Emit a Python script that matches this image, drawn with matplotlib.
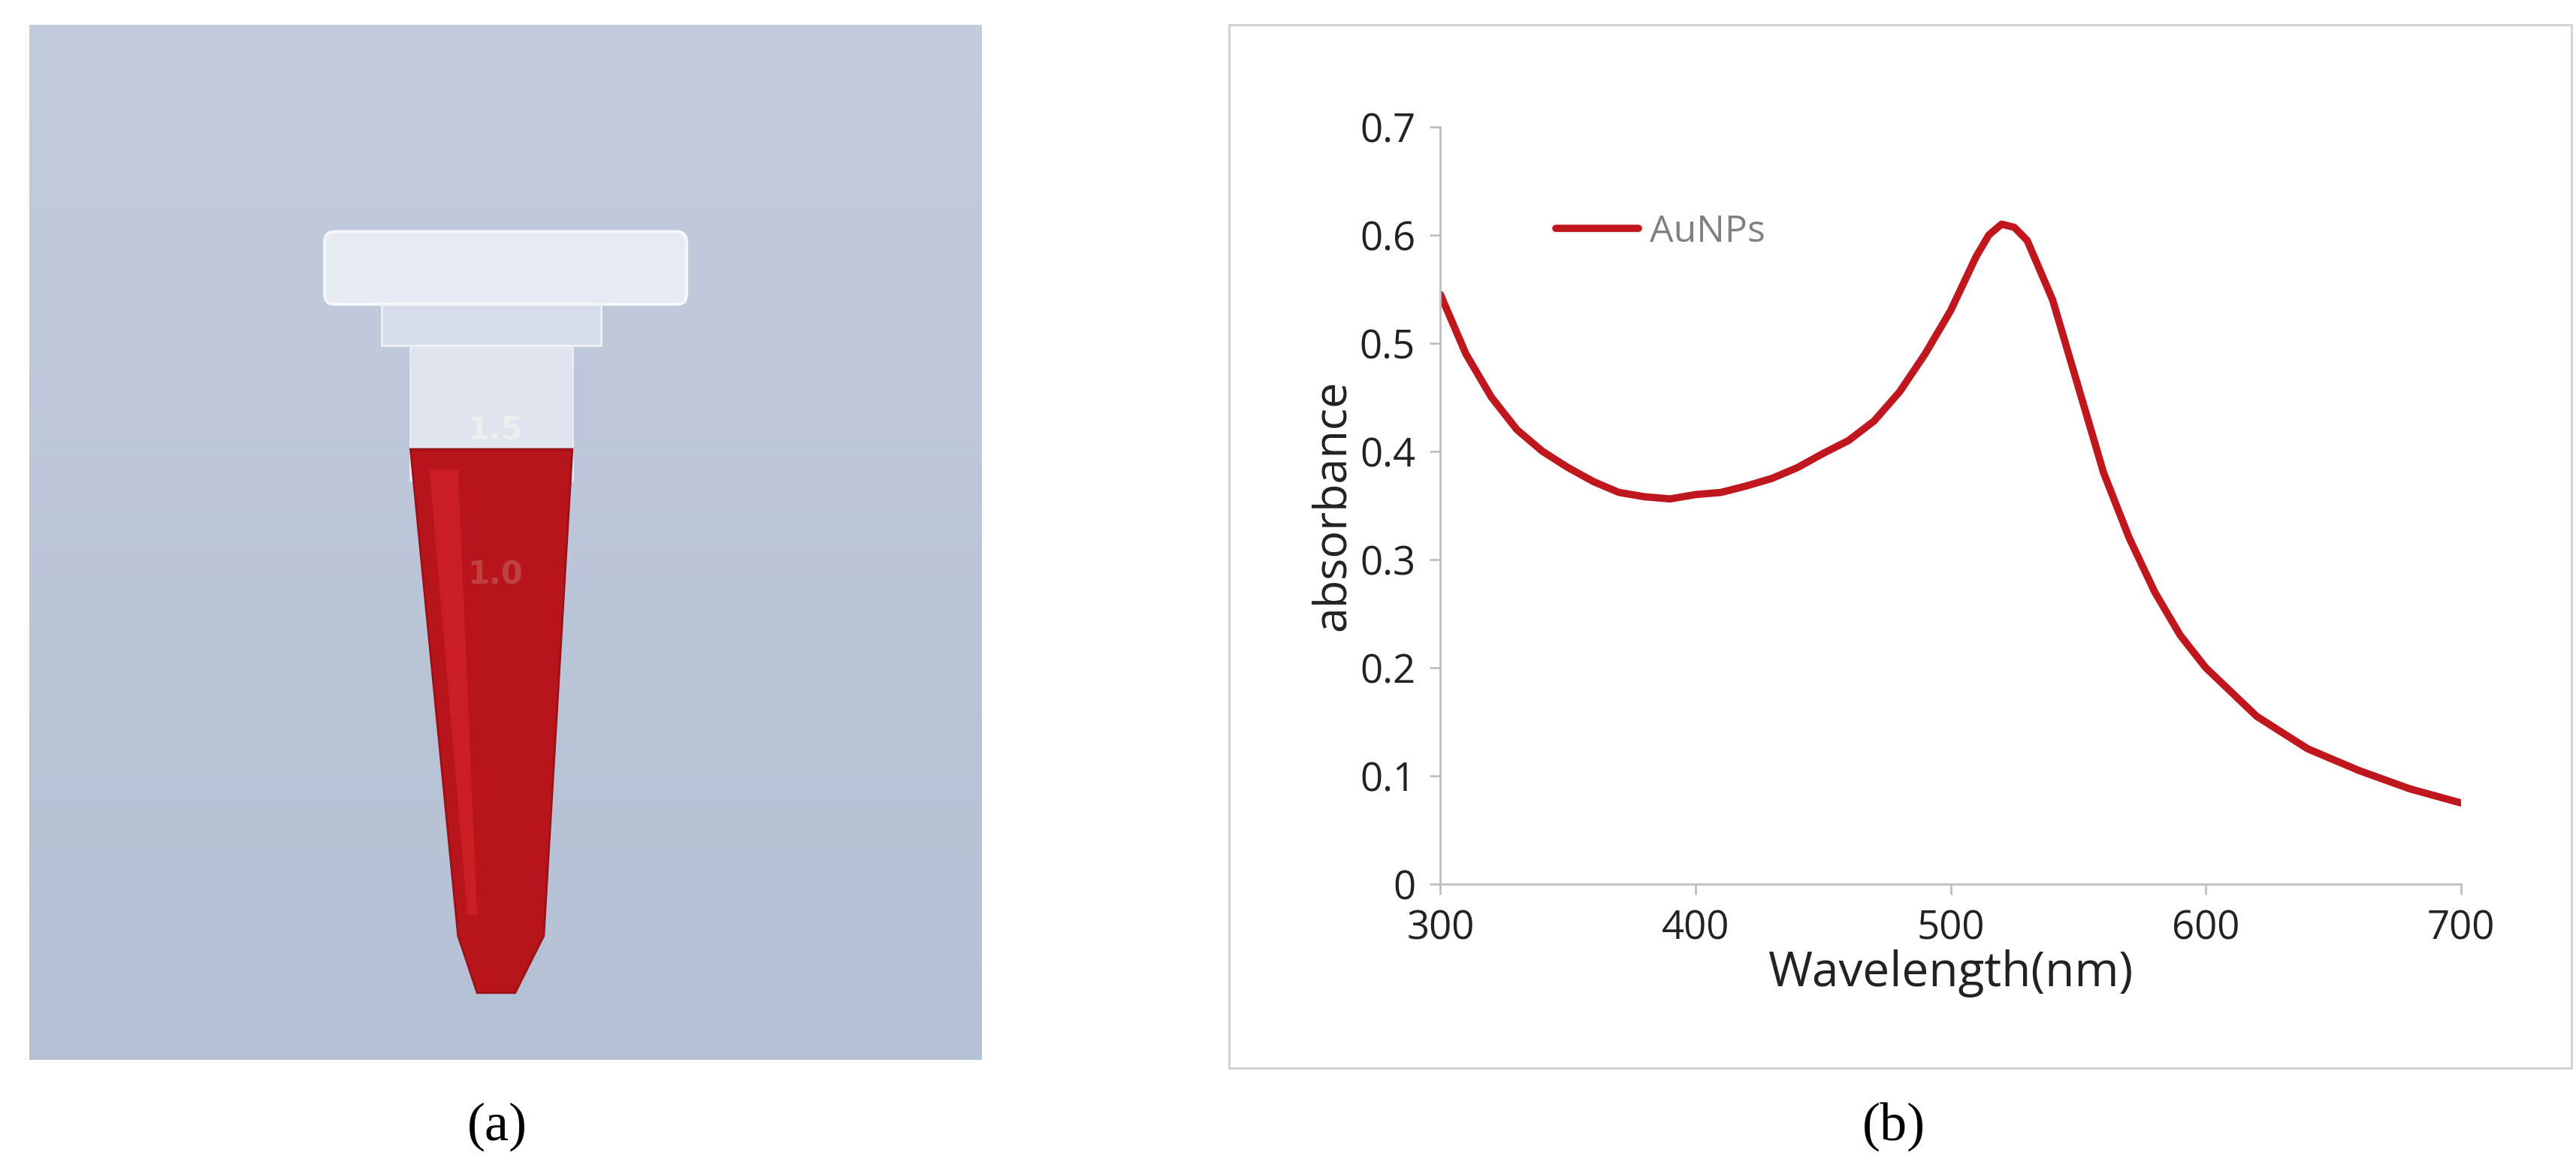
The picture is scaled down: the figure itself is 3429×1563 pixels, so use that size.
import numpy as np
import matplotlib.pyplot as plt
from matplotlib.patches import Polygon, FancyBboxPatch, Rectangle

wavelength = [300, 310, 320, 330, 340, 350, 360, 370, 380, 390, 400, 410, 420, 430, 440,
              450, 460, 470, 480, 490, 500, 510, 515, 520, 525, 530, 540, 550, 560, 570,
              580, 590, 600, 620, 640, 660, 680, 700]
absorbance = [0.545, 0.49, 0.45, 0.42, 0.40, 0.385, 0.372, 0.362, 0.358, 0.356, 0.36, 0.362,
              0.368, 0.375, 0.385, 0.398, 0.41, 0.428, 0.455, 0.49, 0.53, 0.58, 0.60, 0.61,
              0.607, 0.595, 0.54, 0.46, 0.38, 0.32, 0.27, 0.23, 0.20, 0.155, 0.125, 0.105,
              0.088, 0.075]
xticks = [300, 400, 500, 600, 700]
yticks = [0, 0.1, 0.2, 0.3, 0.4, 0.5, 0.6, 0.7]

fig = plt.figure(figsize=(34.3, 15.63), dpi=100)
gray = '#bfbfbf'
txt = '#404040'

# ---- (a) photo-like panel
axp = fig.add_axes([0.0115, 0.097, 0.3695, 0.882])
axp.set_xlim(0, 1); axp.set_ylim(0, 1); axp.axis('off')
grad = np.linspace(0, 1, 200)[:, None] * np.ones((1, 200))
axp.imshow(grad, extent=[0, 1, 0, 1], cmap=plt.matplotlib.colors.LinearSegmentedColormap.from_list(
    'bg', ['#c3ccdc', '#b4c0d4']), aspect='auto', zorder=0)
# tube body (clear part)
axp.add_patch(Polygon([[0.40, 0.70], [0.57, 0.70], [0.57, 0.56], [0.40, 0.56]],
                      closed=True, fc='#dfe4ee', ec='#e8ecf2', lw=2, zorder=2))
# liquid
axp.add_patch(Polygon([[0.40, 0.59], [0.57, 0.59], [0.54, 0.12], [0.51, 0.065], [0.47, 0.065],
                       [0.45, 0.12]], closed=True, fc='#b8141c', ec='#9c1018', lw=2, zorder=3))
axp.add_patch(Polygon([[0.42, 0.57], [0.45, 0.57], [0.47, 0.14], [0.46, 0.14]], closed=True,
                      fc='#d8262a', ec='none', alpha=0.6, zorder=4))
# cap
axp.add_patch(FancyBboxPatch((0.32, 0.74), 0.36, 0.05, boxstyle='round,pad=0.01',
                             fc='#e6eaf1', ec='#f4f6fa', lw=3, zorder=5))
axp.add_patch(Rectangle((0.37, 0.69), 0.23, 0.055, fc='#d6dce8', ec='#eef1f6', lw=2, zorder=4))
axp.text(0.46, 0.60, '1.5', fontsize=30, color='#eeeeee', zorder=6, fontweight='bold')
axp.text(0.46, 0.46, '1.0', fontsize=30, color='#c04040', zorder=6, fontweight='bold')
fig.text(0.193, 0.04, '(a)', fontsize=52, family='Liberation Serif', ha='center', va='center')

# ---- (b) chart frame
fig.add_artist(Rectangle((0.477, 0.090), 0.521, 0.889, transform=fig.transFigure,
                         fill=False, ec='#d0d0d0', lw=2))
ax = fig.add_axes([0.559, 0.247, 0.396, 0.645])
ax.plot(wavelength, absorbance, color='#c0171e', lw=7, label='AuNPs', solid_capstyle='round')
ax.set_xlim(300, 700); ax.set_ylim(0, 0.7)
ax.set_xticks(xticks); ax.set_yticks(yticks)
ax.set_yticklabels(['0' if v == 0 else f'{v:.1f}' for v in yticks])
for s in ['top', 'right']:
    ax.spines[s].set_visible(False)
for s in ['left', 'bottom']:
    ax.spines[s].set_color(gray); ax.spines[s].set_linewidth(2)
ax.tick_params(colors=gray, labelcolor='#222222', labelsize=38, width=2, length=10, pad=14)
for lab in ax.get_xticklabels() + ax.get_yticklabels():
    lab.set_family('Open Sans')
ax.set_xlabel('Wavelength(nm)', fontsize=46, family='Open Sans', color='#222222', labelpad=0)
ax.set_ylabel('absorbance', fontsize=44, family='Open Sans', color='#222222', labelpad=4)
leg = ax.legend(loc='upper left', bbox_to_anchor=(0.08, 0.93), frameon=False,
                handlelength=2.2, handletextpad=0.3, prop={'family': 'Open Sans', 'size': 36})
for t in leg.get_texts():
    t.set_color('#808080')
fig.text(0.735, 0.04, '(b)', fontsize=52, family='Liberation Serif', ha='center', va='center')

fig.savefig('out.png', dpi=100)
